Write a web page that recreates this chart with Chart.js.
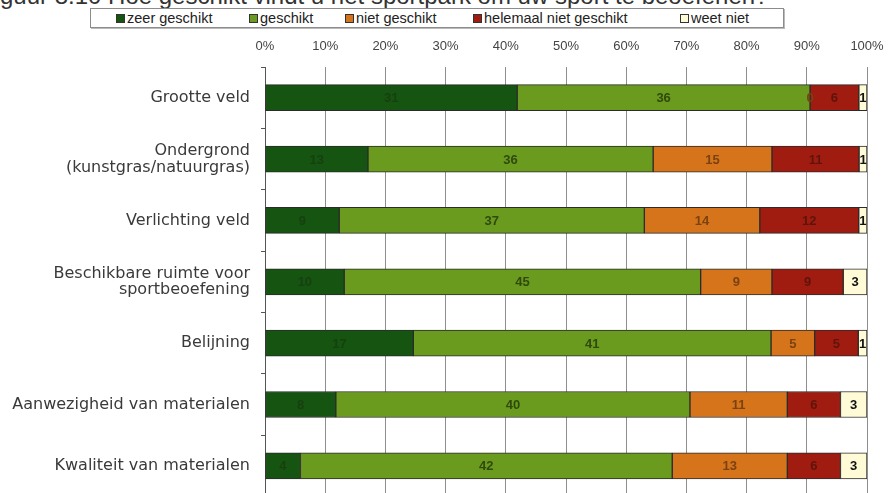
<!DOCTYPE html>
<html>
<head>
<meta charset="utf-8">
<script src="https://cdn.jsdelivr.net/npm/chart.js@4"></script>
<style>
    body { margin: 0; background: #fff; overflow: hidden; width: 888px; height: 493px; position: relative; }
    #title { position: absolute; left: -20px; top: -18px; font: 24px "Liberation Sans", Arial, sans-serif; line-height: 27px; color: #333; white-space: nowrap; }
    #legend { position: absolute; left: 90px; top: 8px; width: 694px; height: 20px; border: 1px solid #8c8c8c; box-shadow: 1px 1px 0 #bbb; background: #fff;
              box-sizing: border-box; font: 14.5px "Liberation Sans Narrow", "Liberation Sans", Arial, sans-serif; color: #222; }
    #legend div { position: absolute; top: 1px; white-space: nowrap; }
    #legend span.box { display: inline-block; width: 7px; height: 7px; border: 1px solid #333; margin-right: 2px; vertical-align: 0px; }
    canvas { position: absolute; left: 0; top: 0; }
</style>
</head>
<body>
<div id="title">Figuur 8.10 Hoe geschikt vindt u het sportpark om uw sport te beoefenen?</div>
<div id="legend"></div>
<canvas id="chart" width="888" height="516"></canvas>
<script>
"use strict";

const categories = [
    "Grootte veld",
    ["Ondergrond", "(kunstgras/natuurgras)"],
    "Verlichting veld",
    ["Beschikbare ruimte voor", "sportbeoefening"],
    "Belijning",
    "Aanwezigheid van materialen",
    "Kwaliteit van materialen"
];

const seriesNames = ["zeer geschikt", "geschikt", "niet geschikt", "helemaal niet geschikt", "weet niet"];

// aantallen per categorie (getoond in de balken)
const zeerGeschikt = [31, 13, 9, 10, 17, 8, 4];
const geschikt = [36, 36, 37, 45, 41, 40, 42];
const nietGeschikt = [0, 15, 14, 9, 5, 11, 13];
const helemaalNiet = [6, 11, 12, 9, 5, 6, 6];
const weetNiet = [1, 1, 1, 3, 1, 3, 3];

const xTicks = [0, 10, 20, 30, 40, 50, 60, 70, 80, 90, 100];

const fills = ["#165412", "#6a9b1f", "#d6741c", "#a11c10", "#fffbd6"];
const textColors = ["#17400f", "#2f4a0c", "#7a4210", "#5e140a", "#111"];
const legendLeft = [25, 158, 254, 382, 589];

const allSeries = [zeerGeschikt, geschikt, nietGeschikt, helemaalNiet, weetNiet];
const totals = categories.map((c, j) => allSeries.reduce((s, arr) => s + arr[j], 0));

const legend = document.querySelector("#legend");
seriesNames.forEach((name, i) => {
    legend.innerHTML += `<div style="left:${legendLeft[i]}px"><span class="box" style="background:${fills[i]}"></span>${name}</div>`;
});

const segmentLabels = {
    id: "segmentLabels",
    afterDatasetsDraw(chart) {
        const ctx = chart.ctx;
        ctx.save();
        ctx.font = 'bold 13px "Liberation Sans", Arial, sans-serif';
        ctx.textAlign = "center";
        ctx.textBaseline = "middle";
        chart.data.datasets.forEach((ds, i) => {
            chart.getDatasetMeta(i).data.forEach((bar, j) => {
                ctx.fillStyle = textColors[i];
                ctx.fillText(String(ds.counts[j]), (bar.x + bar.base) / 2, bar.y + 1);
            });
        });
        ctx.restore();
    }
};

new Chart(document.querySelector("#chart"), {
    type: "bar",
    data: {
        labels: categories,
        datasets: allSeries.map((arr, i) => ({
            label: seriesNames[i],
            counts: arr,
            data: arr.map((v, j) => v / totals[j] * 100),
            backgroundColor: fills[i],
            borderColor: "#2b2b2b",
            borderWidth: 1,
            borderSkipped: false,
            barThickness: 26
        }))
    },
    options: {
        indexAxis: "y",
        responsive: false,
        animation: false,
        layout: { padding: { top: 0, right: 21, bottom: 4, left: 0 } },
        plugins: {
            legend: { display: false },
            tooltip: { enabled: false }
        },
        scales: {
            x: {
                position: "top",
                stacked: true,
                min: 0,
                max: 100,
                afterBuildTicks: (scale) => { scale.ticks = xTicks.map(v => ({ value: v })); },
                afterFit: (scale) => {
                    scale.height = 67;
                    scale.paddingLeft = 0;
                    scale.paddingRight = 0;
                },
                grid: { color: "#8e8e8e", drawTicks: false },
                border: { display: false },
                ticks: {
                    padding: 13,
                    color: "#444",
                    font: { family: '"Liberation Sans Narrow", "Liberation Sans", Arial', size: 13 },
                    callback: (v) => v + "%"
                }
            },
            y: {
                stacked: true,
                afterFit: (scale) => { scale.width = 265; },
                grid: { drawOnChartArea: false, drawTicks: true, tickLength: 4, offset: true, color: "#555" },
                border: { color: "#555" },
                ticks: {
                    padding: 11,
                    color: "#3a3a3a",
                    font: { family: '"DejaVu Sans", Verdana, sans-serif', size: 16, lineHeight: 1.05 }
                }
            }
        }
    },
    plugins: [segmentLabels]
});
</script>
</body>
</html>
